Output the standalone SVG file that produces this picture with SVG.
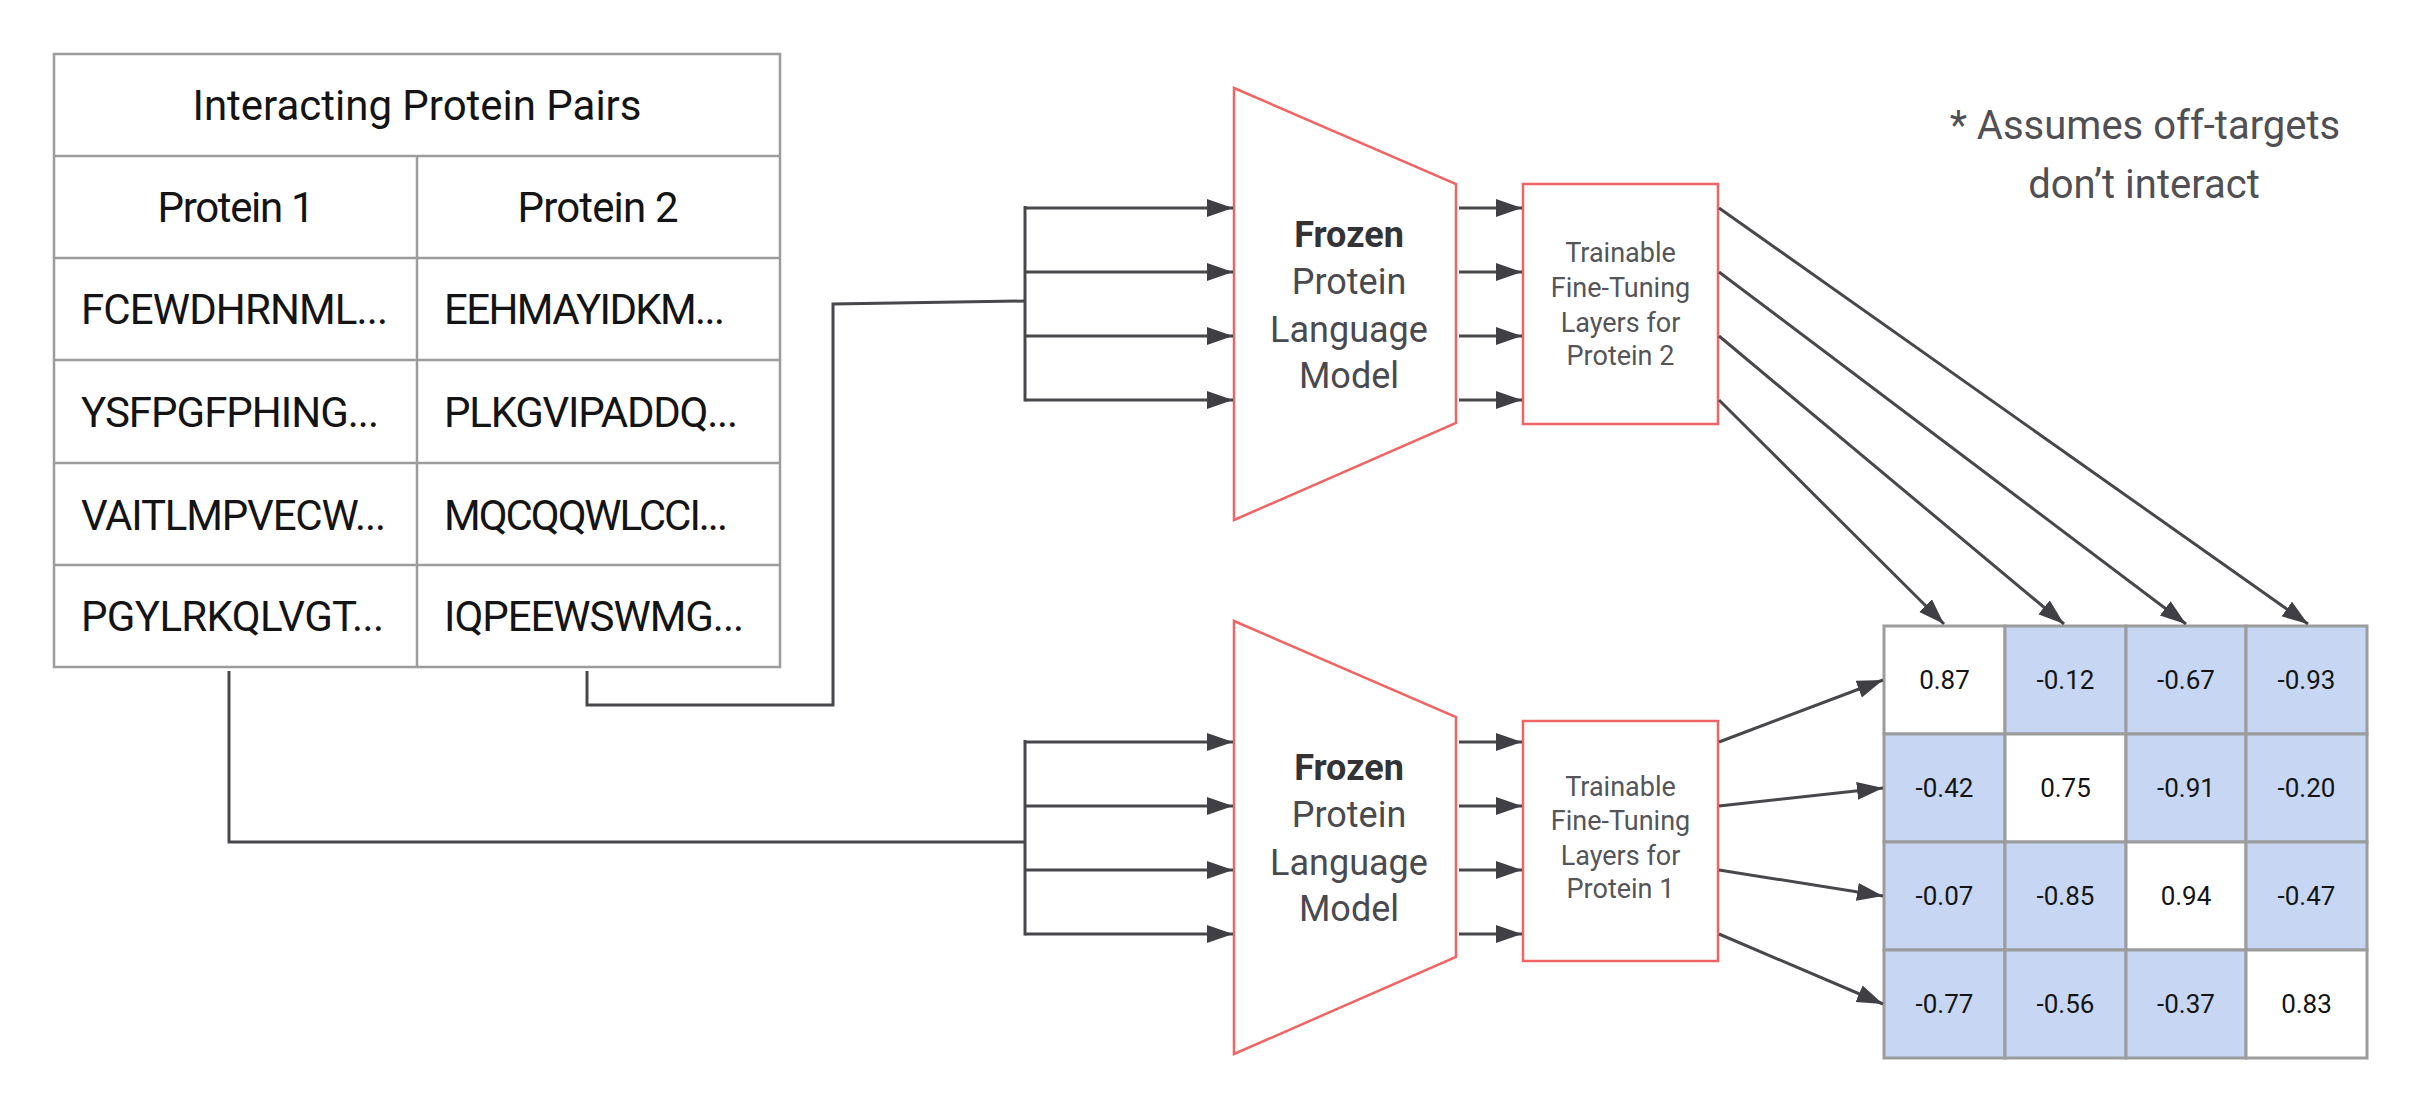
<svg xmlns="http://www.w3.org/2000/svg" width="2423" height="1112" viewBox="0 0 2423 1112">
<style>
  .grid { fill: none; stroke: #9c9c9c; stroke-width: 2.5; }
  .tt { font-family: Roboto, "Liberation Sans", sans-serif; font-size: 42px; fill: #141414; }
  .red { fill: #ffffff; stroke: #f06464; stroke-width: 2.5; }
  .plm { font-family: Roboto, "Liberation Sans", sans-serif; font-size: 36px; fill: #4a4a4e; text-anchor: middle; }
  .plm .b { font-weight: bold; fill: #333336; }
  .tr { font-family: Roboto, "Liberation Sans", sans-serif; font-size: 27px; fill: #555558; text-anchor: middle; }
  .cell { stroke: #9c9c9c; stroke-width: 3; }
  .blue { fill: #c6d6f3; }
  .white { fill: #ffffff; }
  .num { font-family: Roboto, "Liberation Sans", sans-serif; font-size: 26px; fill: #141414; text-anchor: middle; }
  .note { font-family: Roboto, "Liberation Sans", sans-serif; font-size: 40px; fill: #505054; text-anchor: middle; }
  .wire { fill: none; stroke: #48484c; stroke-width: 3; }
  .arr { fill: none; stroke: #48484c; stroke-width: 3; marker-end: url(#ah); }
</style>
<defs>
  <marker id="ah" markerUnits="userSpaceOnUse" markerWidth="28" markerHeight="20" refX="26" refY="9" orient="auto">
    <path d="M0,0 L26,9 L0,18 Z" fill="#404044"/>
  </marker>
</defs>
<rect width="2423" height="1112" fill="#ffffff"/>

<g id="table">
  <rect class="grid" x="54" y="54" width="726" height="613"/>
  <line class="grid" x1="54" y1="156" x2="780" y2="156"/>
  <line class="grid" x1="54" y1="258" x2="780" y2="258"/>
  <line class="grid" x1="54" y1="360" x2="780" y2="360"/>
  <line class="grid" x1="54" y1="463" x2="780" y2="463"/>
  <line class="grid" x1="54" y1="565" x2="780" y2="565"/>
  <line class="grid" x1="417" y1="156" x2="417" y2="667"/>
  <text class="tt" x="417" y="120" text-anchor="middle" textLength="449">Interacting Protein Pairs</text>
  <text class="tt" x="236" y="222" text-anchor="middle" textLength="157">Protein 1</text>
  <text class="tt" x="598" y="222" text-anchor="middle" textLength="161">Protein 2</text>
  <text class="tt" x="81" y="324" textLength="307">FCEWDHRNML...</text>
  <text class="tt" x="81" y="427" textLength="298">YSFPGFPHING...</text>
  <text class="tt" x="81" y="530" textLength="305">VAITLMPVECW...</text>
  <text class="tt" x="81" y="631" textLength="303">PGYLRKQLVGT...</text>
  <text class="tt" x="444" y="324" textLength="281">EEHMAYIDKM...</text>
  <text class="tt" x="444" y="427" textLength="294">PLKGVIPADDQ...</text>
  <text class="tt" x="444" y="530" textLength="284">MQCQQWLCCI...</text>
  <text class="tt" x="444" y="631" textLength="300">IQPEEWSWMG...</text>
</g>

<g id="plm-top">
  <polygon class="red" points="1234,88 1456,184 1456,423 1234,520"/>
  <text class="plm"><tspan class="b" x="1349" y="247">Frozen</tspan><tspan x="1349" y="294">Protein</tspan><tspan x="1349" y="342">Language</tspan><tspan x="1349" y="388">Model</tspan></text>
</g>

<g id="trainable-top">
  <rect class="red" x="1523" y="184" width="195" height="240"/>
  <text class="tr"><tspan x="1620.5" y="262">Trainable</tspan><tspan x="1620.5" y="297">Fine-Tuning</tspan><tspan x="1620.5" y="332">Layers for</tspan><tspan x="1620.5" y="365">Protein 2</tspan></text>
</g>

<g id="plm-bottom">
  <polygon class="red" points="1234,621 1456,717 1456,957 1234,1054"/>
  <text class="plm"><tspan class="b" x="1349" y="780">Frozen</tspan><tspan x="1349" y="827">Protein</tspan><tspan x="1349" y="875">Language</tspan><tspan x="1349" y="921">Model</tspan></text>
</g>

<g id="trainable-bottom">
  <rect class="red" x="1523" y="721" width="195" height="240"/>
  <text class="tr"><tspan x="1620.5" y="796">Trainable</tspan><tspan x="1620.5" y="830">Fine-Tuning</tspan><tspan x="1620.5" y="865">Layers for</tspan><tspan x="1620.5" y="898">Protein 1</tspan></text>
</g>

<g id="matrix">
  <rect class="cell white" x="1884" y="626" width="121" height="108"/>
  <rect class="cell blue" x="2005" y="626" width="121" height="108"/>
  <rect class="cell blue" x="2126" y="626" width="120" height="108"/>
  <rect class="cell blue" x="2246" y="626" width="121" height="108"/>
  <rect class="cell blue" x="1884" y="734" width="121" height="108"/>
  <rect class="cell white" x="2005" y="734" width="121" height="108"/>
  <rect class="cell blue" x="2126" y="734" width="120" height="108"/>
  <rect class="cell blue" x="2246" y="734" width="121" height="108"/>
  <rect class="cell blue" x="1884" y="842" width="121" height="108"/>
  <rect class="cell blue" x="2005" y="842" width="121" height="108"/>
  <rect class="cell white" x="2126" y="842" width="120" height="108"/>
  <rect class="cell blue" x="2246" y="842" width="121" height="108"/>
  <rect class="cell blue" x="1884" y="950" width="121" height="108"/>
  <rect class="cell blue" x="2005" y="950" width="121" height="108"/>
  <rect class="cell blue" x="2126" y="950" width="120" height="108"/>
  <rect class="cell white" x="2246" y="950" width="121" height="108"/>
  <text class="num" x="1944.5" y="689">0.87</text>
  <text class="num" x="2065.5" y="689">-0.12</text>
  <text class="num" x="2186" y="689">-0.67</text>
  <text class="num" x="2306.5" y="689">-0.93</text>
  <text class="num" x="1944.5" y="797">-0.42</text>
  <text class="num" x="2065.5" y="797">0.75</text>
  <text class="num" x="2186" y="797">-0.91</text>
  <text class="num" x="2306.5" y="797">-0.20</text>
  <text class="num" x="1944.5" y="905">-0.07</text>
  <text class="num" x="2065.5" y="905">-0.85</text>
  <text class="num" x="2186" y="905">0.94</text>
  <text class="num" x="2306.5" y="905">-0.47</text>
  <text class="num" x="1944.5" y="1013">-0.77</text>
  <text class="num" x="2065.5" y="1013">-0.56</text>
  <text class="num" x="2186" y="1013">-0.37</text>
  <text class="num" x="2306.5" y="1013">0.83</text>
</g>

<g id="note">
  <text class="note"><tspan x="2145" y="139">* Assumes off-targets</tspan><tspan x="2144" y="198">don’t interact</tspan></text>
</g>

<g id="connectors">
  <path class="wire" d="M587,671 V705 H833 V304 L1025,301"/>
  <path class="wire" d="M229,671 V842 H1025"/>
  <line class="wire" x1="1025" y1="206" x2="1025" y2="401.5"/>
  <line class="wire" x1="1025" y1="740" x2="1025" y2="935.5"/>
  <line class="arr" x1="1025" y1="208" x2="1233" y2="208"/>
  <line class="arr" x1="1025" y1="272" x2="1233" y2="272"/>
  <line class="arr" x1="1025" y1="336" x2="1233" y2="336"/>
  <line class="arr" x1="1025" y1="400" x2="1233" y2="400"/>
  <line class="arr" x1="1025" y1="742" x2="1233" y2="742"/>
  <line class="arr" x1="1025" y1="806" x2="1233" y2="806"/>
  <line class="arr" x1="1025" y1="870" x2="1233" y2="870"/>
  <line class="arr" x1="1025" y1="934" x2="1233" y2="934"/>
  <line class="arr" x1="1459" y1="208" x2="1522" y2="208"/>
  <line class="arr" x1="1459" y1="272" x2="1522" y2="272"/>
  <line class="arr" x1="1459" y1="336" x2="1522" y2="336"/>
  <line class="arr" x1="1459" y1="400" x2="1522" y2="400"/>
  <line class="arr" x1="1459" y1="742" x2="1522" y2="742"/>
  <line class="arr" x1="1459" y1="806" x2="1522" y2="806"/>
  <line class="arr" x1="1459" y1="870" x2="1522" y2="870"/>
  <line class="arr" x1="1459" y1="934" x2="1522" y2="934"/>
  <line class="arr" x1="1719" y1="208" x2="2308" y2="624"/>
  <line class="arr" x1="1719" y1="272" x2="2186" y2="624"/>
  <line class="arr" x1="1719" y1="336" x2="2064" y2="624"/>
  <line class="arr" x1="1719" y1="400" x2="1944" y2="624"/>
  <line class="arr" x1="1719" y1="742" x2="1883" y2="680"/>
  <line class="arr" x1="1719" y1="806" x2="1883" y2="788"/>
  <line class="arr" x1="1719" y1="870" x2="1883" y2="896"/>
  <line class="arr" x1="1719" y1="934" x2="1883" y2="1004"/>
</g>
</svg>
